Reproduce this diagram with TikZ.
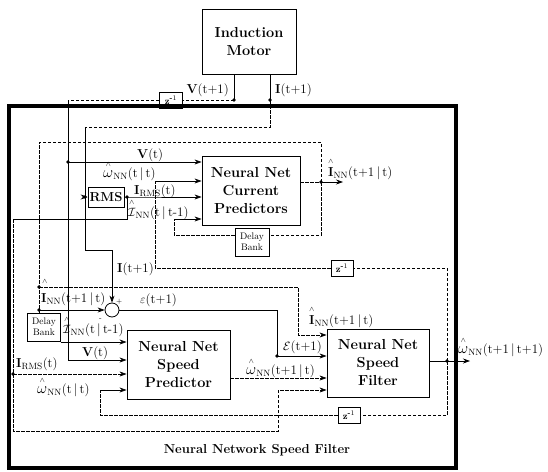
\documentclass[tikz,border=0pt]{standalone}
\usepackage{amsmath}
\usetikzlibrary{arrows.meta,calc}
\newcommand{\hh}[2][13pt]{\ooalign{#2\cr\hidewidth\smash{\raisebox{#1}{\scriptsize$\wedge$}}\hidewidth\cr}}
\newcommand{\bw}{\scalebox{1.3}{$\omega$}}
\begin{document}
\begin{tikzpicture}[x=1pt,y=-1pt,
 sl/.style={line width=0.7pt},
 dl/.style={line width=0.6pt,dash pattern=on 3.5pt off 1.5pt},
 arr/.style={-{Stealth[length=7pt,width=5pt]}},
 box/.style={draw,line width=0.9pt,inner sep=0pt,align=center,font=\fontsize{14.5}{18}\selectfont\bfseries},
 sbox/.style={draw,line width=0.6pt,inner sep=0pt,align=center},
 lab/.style={inner sep=0pt,anchor=base west,font=\fontsize{13}{15}\selectfont}]
\useasboundingbox (0,0) rectangle (548,471);
\node[draw,line width=3.5pt,minimum width=447pt,minimum height=362pt,inner sep=0pt] (outer) at (232.5,287) {};
\node[box,minimum width=94pt,minimum height=65pt] (motor) at (249,42) {Induction\\Motor};
\node[box,minimum width=98pt,minimum height=69pt] (cp) at (251,190.5) {Neural Net\\Current\\Predictors};
\node[box,minimum width=103pt,minimum height=69pt] (sp) at (178.5,364.5) {Neural Net\\Speed\\Predictor};
\node[box,minimum width=102pt,minimum height=68pt] (sf) at (378,363) {Neural Net\\Speed\\Filter};
\node[sbox,minimum width=36pt,minimum height=20pt,font=\fontsize{13}{14}\selectfont\bfseries] (rms) at (106,197) {RMS};
\node[sbox,minimum width=34pt,minimum height=28pt,font=\fontsize{9.5}{11}\selectfont] (db1) at (252,242) {Delay\\Bank};
\node[sbox,minimum width=33pt,minimum height=28pt,font=\fontsize{9.5}{11}\selectfont] (db2) at (44,327) {Delay\\Bank};
\node[sbox,minimum width=23pt,minimum height=16pt,font=\fontsize{9.5}{10}\selectfont\bfseries] (z1) at (171,100) {z$^{\text{-}1}$};
\node[sbox,minimum width=22pt,minimum height=16pt,font=\fontsize{9.5}{10}\selectfont\bfseries] (z2) at (342,268) {z$^{\text{-}1}$};
\node[sbox,minimum width=22pt,minimum height=16pt,font=\fontsize{9.5}{10}\selectfont\bfseries] (z3) at (349,415) {z$^{\text{-}1}$};
\node[circle,draw,line width=0.8pt,minimum size=14pt,inner sep=0pt] (sum) at (112,310) {};
% coordinates
\coordinate (mV) at (234,100); \coordinate (mI) at (270,100);
\coordinate (vc) at (68,100); \coordinate (vcp) at (68,162); \coordinate (vsp) at (68,360);
\coordinate (i1) at (270,127); \coordinate (i2) at (85,127); \coordinate (irms) at (85,197);
\coordinate (i3) at (85,250); \coordinate (i4) at (112,250);
\coordinate (r1) at (127,197); \coordinate (r2) at (127,219); \coordinate (r3) at (13,219);
\coordinate (r4) at (13,374); \coordinate (r5) at (13,431); \coordinate (r6) at (278,431); \coordinate (r7) at (278,390);
\coordinate (o1) at (321,182); \coordinate (o1e) at (343,182); \coordinate (o2) at (321,142);
\coordinate (o3) at (39,142); \coordinate (o4) at (39,287); \coordinate (o5) at (39,310);
\coordinate (o6) at (298,287); \coordinate (o7) at (298,335);
\coordinate (o8) at (321,235); \coordinate (o9) at (174,235); \coordinate (o10) at (174,219);
\coordinate (w0) at (447,361); \coordinate (wend) at (470,361); \coordinate (w1) at (447,268);
\coordinate (w2) at (155,268); \coordinate (w3) at (155,181);
\coordinate (w4) at (447,415); \coordinate (w5) at (100,415); \coordinate (w6) at (100,390);
\coordinate (e1) at (277,310); \coordinate (e2) at (277,356);
\coordinate (j1) at (60.5,342); \coordinate (p1) at (230,378);
% connectors
\draw[sl] (motor.south -| mV) -- (mV);
\draw[sl] (motor.south -| mI) -- (mI);
\draw[dl] (mV) -- (z1.east);
\draw[dl] (z1.west) -- (vc);
\draw[sl,arr] (vc) -- (vsp) -- (vsp -| sp.west);
\draw[sl,arr] (vcp) -- (vcp -| cp.west);
\draw[dl] (mI) -- (i1) -- (i2);
\draw[sl,arr] (i2) -- (i3) -- (i4) -- (sum.north);
\draw[sl,arr] (irms) -- (rms.west);
\draw[sl,arr] (rms.east) -- (r1) -- (r1 -| cp.west);
\draw[sl] (r1) -- (r2) -- (r3);
\draw[dl,arr] (r3) -- (r5) -- (r6) -- (r7) -- (r7 -| sf.west);
\draw[dl,arr] (r4) -- (r4 -| sp.west);
\draw[dl] (cp.east |- o1) -- (o1);
\draw[sl,arr] (o1) -- (o1e);
\draw[dl] (o1) -- (o2) -- (o3) -- (o4) -- (o5) -- (o5 |- db2.north);
\draw[dl,arr] (o4) -- (o6) -- (o7) -- (o7 -| sf.west);
\draw[sl,arr] (o5) -- (sum.west);
\draw[dl] (o1) -- (o8) -- (o8 -| db1.east);
\draw[dl] (o8 -| db1.west) -- (o9) -- (o10);
\draw[sl,arr] (o10) -- (o10 -| cp.west);
\draw[sl,arr] (j1) -- (j1 -| sp.west);
\draw[sl,arr] (sum.east) -- (e1) -- (e2) -- (e2 -| sf.west);
\draw[dl,arr] (p1) -- (p1 -| sf.west);
\draw[sl,arr] (sf.east |- w0) -- (wend);
\draw[dl] (w0) -- (w1) -- (z2.east);
\draw[dl] (z2.west) -- (w2) -- (w3);
\draw[sl,arr] (w3) -- (w3 -| cp.west);
\draw[dl] (w0) -- (w4) -- (z3.east);
\draw[dl] (z3.west) -- (w5) -- (w6);
\draw[sl,arr] (w6) -- (w6 -| sp.west);
\foreach \p in {mV,mI,vcp,irms,r1,r4,o1,o4,o5,w0,e2} \fill (\p) circle (1.8pt);
% labels
\node[lab,anchor=base east] (lV1) at (229,93) {\textbf{V}(t+1)};
\node[lab] (lI1) at (275,93) {\textbf{I}(t+1)};
\node[lab] (lV2) at (137,158) {\textbf{V}(t)};
\node[lab] (lw1) at (103,177) {\hh[11pt]{\bw}\textsubscript{NN}(t\,|\,t)};
\node[lab] (lr1) at (134,194) {\textbf{I}\textsubscript{RMS}(t)};
\node[lab] (lj1) at (128,216) {\hh[12pt]{$\mathcal{I}$}\textsubscript{NN}(t\,|\,t-1)};
\node[lab] (li1) at (328,176) {\hh{\textbf{I}}\textsubscript{NN}(t+1\,|\,t)};
\node[lab] (li2) at (117,272) {\textbf{I}(t+1)};
\node[lab] (lh3) at (42,283) {\scriptsize$\wedge$};
\node[lab] (li3) at (41,302) {\textbf{I}\textsubscript{NN}(t+1\,|\,t)};
\node[lab] (lp) at (116,303) {\scriptsize +};
\node[lab] (lm) at (99,320) {\scriptsize -};
\node[lab] (le1) at (140,303) {$\varepsilon$(t+1)};
\node[lab] (li4) at (309,324) {\hh{\textbf{I}}\textsubscript{NN}(t+1\,|\,t)};
\node[lab] (lj2) at (63,333) {\hh[12pt]{$\mathcal{I}$}\textsubscript{NN}(t\,|\,t-1)};
\node[lab] (lV3) at (82,356) {\textbf{V}(t)};
\node[lab] (lr2) at (16,367) {\textbf{I}\textsubscript{RMS}(t)};
\node[lab] (lw2) at (37,393) {\hh[11pt]{\bw}\textsubscript{NN}(t\,|\,t)};
\node[lab] (le2) at (283,350) {$\mathcal{E}$(t+1)};
\node[lab] (lw3) at (246,374) {\hh[11pt]{\bw}\textsubscript{NN}(t+1\,|\,t)};
\node[lab] (lw4) at (458,353) {\hh[11pt]{\bw}\textsubscript{NN}(t+1\,|\,t+1)};
\node[lab,anchor=base,font=\fontsize{13}{15}\selectfont\bfseries] (title) at (257,453) {Neural Network Speed Filter};
\end{tikzpicture}
\end{document}
